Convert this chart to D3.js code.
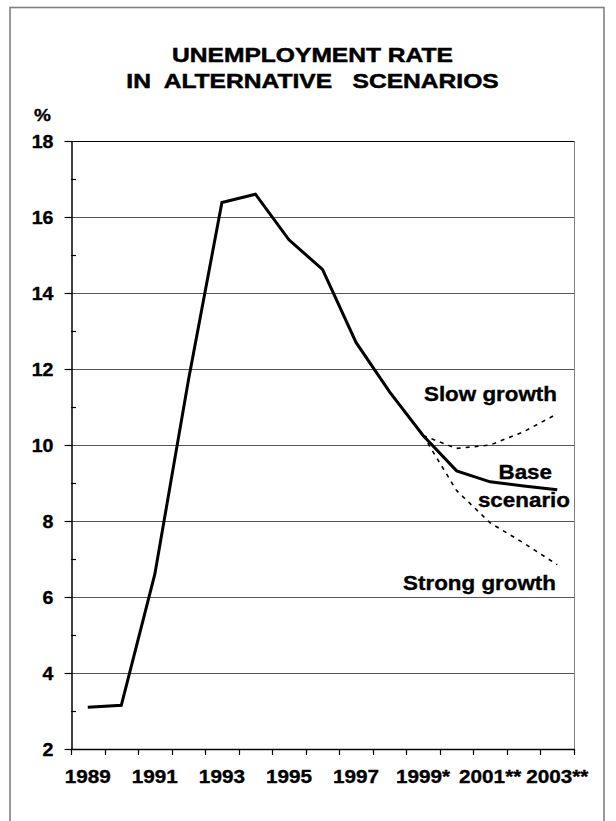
<!DOCTYPE html>
<html>
<head>
<meta charset="utf-8">
<script src="https://cdn.jsdelivr.net/npm/d3@7"></script>
<style>
  html, body { margin: 0; padding: 0; background: #fff; }
  svg { display: block; }
</style>
</head>
<body>
<svg id="chart" width="616" height="821"></svg>
<script>
// ---- data ----
const categories = ["1989","1990","1991","1992","1993","1994","1995","1996","1997","1998","1999","2000","2001","2002","2003"];
const xTickLabels = ["1989","","1991","","1993","","1995","","1997","","1999*","","2001**","","2003**"];
const baseScenario = [3.1, 3.15, 6.6, 11.7, 16.38, 16.6, 15.4, 14.62, 12.7, 11.4, 10.25, 9.32, 9.03, 8.92, 8.82];
const scenarioYears = ["1999","2000","2001","2002","2003"];
const slowGrowth = [10.25, 9.91, 10.0, 10.35, 10.82];
const strongGrowth = [10.25, 8.8, 7.95, 7.42, 6.85];
const yTicks = [2, 4, 6, 8, 10, 12, 14, 16, 18];
const yMinorTicks = [3, 5, 7, 9, 11, 13, 15, 17];
const titleLines = ["UNEMPLOYMENT RATE", "IN  ALTERNATIVE   SCENARIOS"];

// ---- layout ----
const svg = d3.select("#chart");
const pLeft = 71, pRight = 574, pTop = 141, pBottom = 749;
const SX = 1.12; // horizontal text stretch
const FONT = "'Liberation Sans', Arial, Helvetica, sans-serif";

const x = d3.scaleBand().domain(categories).range([pLeft, pRight]).paddingInner(0).paddingOuter(0);
const y = d3.scaleLinear().domain([2, 18]).range([pBottom, pTop]);
const cx = d => x(d) + x.bandwidth() / 2;

function fontify(sel, size, sw) {
  return sel.attr("font-family", FONT).attr("font-weight", "700")
    .style("font-family", FONT).style("font-weight", "700").style("font-size", size + "px")
    .attr("fill", "#000").attr("stroke", "#000").attr("stroke-width", sw == null ? 0.35 : sw)
    .style("white-space", "pre");
}
function stext(g, str, px, py, size, anchor, sx, sw) {
  const t = g.append("text")
    .attr("transform", `translate(${px},${py}) scale(${sx || SX},1)`)
    .attr("text-anchor", anchor)
    .attr("xml:space", "preserve")
    .text(str);
  return fontify(t, size, sw);
}

// outer frame
svg.append("rect").attr("x", 10).attr("y", 7.5).attr("width", 594).attr("height", 840)
  .attr("fill", "none").attr("stroke", "#808080").attr("stroke-width", 1.6);

// title
stext(svg, titleLines[0], 312.5, 61.5, 20.5, "middle", 1.2, 0.5);
stext(svg, titleLines[1], 312.5, 88, 20.5, "middle", 1.2, 0.5);

// % label
stext(svg, "%", 34, 121, 17, "start");

// gridlines
svg.append("g").selectAll("line").data(yTicks.filter(v => v > 2)).join("line")
  .attr("x1", pLeft).attr("x2", pRight)
  .attr("y1", d => Math.round(y(d)) + 0.5).attr("y2", d => Math.round(y(d)) + 0.5)
  .attr("stroke", d => d === 18 ? "#000" : "#555").attr("stroke-width", 1);

// right border of plot area
svg.append("line").attr("x1", pRight + 0.5).attr("x2", pRight + 0.5).attr("y1", pTop).attr("y2", pBottom)
  .attr("stroke", "#808080").attr("stroke-width", 1);

// y axis
const yAxis = svg.append("g").attr("transform", `translate(${pLeft + 0.5},0)`)
  .call(d3.axisLeft(y).tickValues(yTicks).tickSize(7).tickPadding(10).tickSizeOuter(0).tickFormat(d3.format("d")));
yAxis.attr("font-family", null).attr("font-size", null);
yAxis.select(".domain").attr("stroke", "#000").attr("stroke-width", 1.5);
yAxis.selectAll(".tick line").attr("stroke", "#000").attr("stroke-width", 1.2);
fontify(yAxis.selectAll(".tick text")
  .attr("x", null).attr("dy", null)
  .attr("transform", `translate(-18,6) scale(${SX},1)`), 17.5);
// minor ticks inside
svg.append("g").selectAll("line").data(yMinorTicks).join("line")
  .attr("x1", pLeft).attr("x2", pLeft + 5)
  .attr("y1", d => Math.round(y(d)) + 0.5).attr("y2", d => Math.round(y(d)) + 0.5)
  .attr("stroke", "#000").attr("stroke-width", 1.2);

// x axis line
svg.append("line").attr("x1", pLeft).attr("x2", pRight + 0.5).attr("y1", pBottom + 0.5).attr("y2", pBottom + 0.5)
  .attr("stroke", "#000").attr("stroke-width", 1.5);
// boundary ticks
const bounds = categories.map(c => x(c)).concat([x(categories[categories.length - 1]) + x.bandwidth()]);
svg.append("g").selectAll("line").data(bounds).join("line")
  .attr("x1", d => Math.round(d) + 0.5).attr("x2", d => Math.round(d) + 0.5)
  .attr("y1", pBottom).attr("y2", pBottom + 6)
  .attr("stroke", "#000").attr("stroke-width", 1.2);
// x labels
const xAxis = svg.append("g").attr("transform", `translate(0,${pBottom})`)
  .call(d3.axisBottom(x).tickSize(0).tickPadding(0)
    .tickValues(categories.filter((c, i) => xTickLabels[i] !== ""))
    .tickFormat(c => xTickLabels[categories.indexOf(c)]));
xAxis.attr("font-family", null).attr("font-size", null);
xAxis.select(".domain").remove();
fontify(xAxis.selectAll(".tick text")
  .attr("y", null).attr("dy", null)
  .attr("transform", `translate(0,34) scale(${SX},1)`), 18.5);

// lines
const line = d3.line().x(d => cx(d.c)).y(d => y(d.v));
const scenarioLine = (vals) => line(scenarioYears.map((c, i) => ({ c, v: vals[i] })));

svg.append("path").attr("d", scenarioLine(slowGrowth))
  .attr("fill", "none").attr("stroke", "#000").attr("stroke-width", 1.6).attr("stroke-dasharray", "4,5");
svg.append("path").attr("d", scenarioLine(strongGrowth))
  .attr("fill", "none").attr("stroke", "#000").attr("stroke-width", 1.6).attr("stroke-dasharray", "4,5");
svg.append("path").attr("d", line(categories.map((c, i) => ({ c, v: baseScenario[i] }))))
  .attr("fill", "none").attr("stroke", "#000").attr("stroke-width", 3).attr("stroke-linejoin", "miter");

// annotations
stext(svg, "Slow growth", 557, 401, 20, "end");
stext(svg, "Base", 552, 479, 20, "end");
stext(svg, "scenario", 570, 507, 20, "end");
stext(svg, "Strong growth", 556, 590, 20, "end");
</script>
</body>
</html>
